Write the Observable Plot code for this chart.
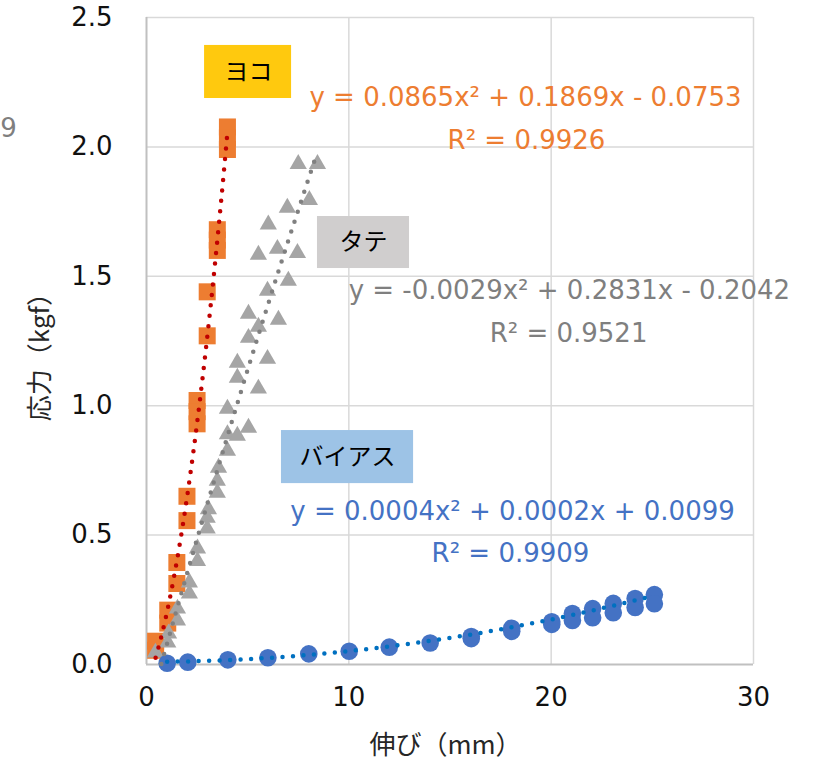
<!DOCTYPE html>
<html><head><meta charset="utf-8">
<script src="https://cdn.jsdelivr.net/npm/d3@7"></script>
<script src="https://cdn.jsdelivr.net/npm/@observablehq/plot@0.6"></script>
<style>body{margin:0;background:#fff}</style>
</head><body><div id="chart"></div>
<script>
// ヨコ (horizontal)
const yokoX = [4.0,4.0,4.0,3.5,3.5,3.5,3.0,3.0,2.5,2.5,2.5,2.0,2.0,1.5,1.5,1.05,1.05,0.45,0.45];
const yokoY = [2.077,2.035,1.99,1.68,1.64,1.60,1.44,1.27,1.02,0.977,0.93,0.65,0.556,0.394,0.313,0.21,0.16,0.09,0.055];
// タテ (vertical)
const tateX = [8.45,7.5,8.05,6.96,6.02,6.47,7.46,5.53,7.01,5.98,5.04,6.52,5.53,5.04,4.49,5.98,4.49,5.53,4.0,5.04,4.0,4.49,4.0,3.56,3.5,3.5,3.06,3.0,3.0,2.52,2.52,2.12,2.12,1.53,1.53,1.09,1.05,0.44];
const tateY = [1.934,1.934,1.795,1.765,1.70,1.606,1.59,1.583,1.483,1.444,1.355,1.332,1.305,1.262,1.166,1.181,1.108,1.066,0.988,0.915,0.89,0.884,0.826,0.76,0.71,0.664,0.60,0.567,0.525,0.448,0.40,0.317,0.274,0.216,0.17,0.12,0.085,0.046];
// バイアス (bias)
const biasX = [1.02,2.04,4.02,6.0,8.02,10.02,12.0,14.02,16.05,16.05,18.05,18.05,20.03,20.03,21.05,21.05,22.05,22.05,23.07,23.07,24.15,24.15,25.1,25.1];
const biasY = [0.005,0.009,0.018,0.026,0.041,0.051,0.067,0.083,0.108,0.10,0.14,0.128,0.165,0.155,0.197,0.17,0.216,0.181,0.236,0.20,0.255,0.22,0.27,0.235];

// trendline coefficients (a, b, c) as printed on the chart
const yokoFit = [0.0865, 0.1869, -0.0753];
const tateFit = [-0.0029, 0.2831, -0.2042];
const biasFit = [0.0004, 0.0002, 0.0099];
const yokoEq = ["y = 0.0865x² + 0.1869x - 0.0753", "R² = 0.9926"];
const tateEq = ["y = -0.0029x² + 0.2831x - 0.2042", "R² = 0.9521"];
const biasEq = ["y = 0.0004x² + 0.0002x + 0.0099", "R² = 0.9909"];
const seriesNames = ["ヨコ", "タテ", "バイアス"];

const xTicks = [0, 10, 20, 30];
const yTicks = [0, 0.5, 1.0, 1.5, 2.0, 2.5];
const xTitle = "伸び（mm）";
const yTitle = "応力（kgf）";

const rows = (xs, ys) => xs.map((x, i) => ({x, y: ys[i]}));
function trend(c, xs) {
  const x0 = d3.min(xs), x1 = d3.max(xs), n = 300;
  return d3.range(n + 1).map(i => {
    const x = x0 + (x1 - x0) * i / n;
    return {x, y: c[0] * x * x + c[1] * x + c[2]};
  }).filter(d => d.y >= 0);
}

const EQF = "DejaVu Sans";
const JPF = "Noto Sans CJK JP";
const dotted = {strokeDasharray: "0 10.5", strokeLinecap: "round", strokeWidth: 4.5};

const chart = Plot.plot({
  width: 823, height: 766,
  marginLeft: 146, marginRight: 70, marginTop: 17, marginBottom: 102,
  x: {domain: [0, 30]},
  y: {domain: [0, 2.5]},
  style: {fontFamily: EQF, background: "#fff"},
  marks: [
    Plot.gridX(xTicks.slice(1), {stroke: "#d9d9d9", strokeOpacity: 1, strokeWidth: 1.5}),
    Plot.gridY(yTicks.slice(1), {stroke: "#d9d9d9", strokeOpacity: 1, strokeWidth: 1.5}),
    Plot.ruleX([0], {stroke: "#c0c0c0", strokeWidth: 2}),
    Plot.ruleY([0], {stroke: "#c0c0c0", strokeWidth: 2}),
    Plot.axisX(xTicks, {tickSize: 0, tickPadding: 23, fontSize: 26, fill: "#111", label: null, tickFormat: d3.format("d")}),
    Plot.axisY(yTicks, {tickSize: 0, tickPadding: 34, fontSize: 26, fill: "#111", label: null, tickFormat: d3.format(".1f")}),
    // markers
    Plot.dot(rows(yokoX, yokoY), {x: "x", y: "y", symbol: "square", r: 9.6, fill: "#ED7D31", stroke: "none"}),
    Plot.dot(rows(tateX, tateY), {x: "x", y: "y", symbol: "triangle", r: 6.4, fill: "#A5A5A5", stroke: "none"}),
    Plot.dot(rows(biasX, biasY), {x: "x", y: "y", r: 8.8, fill: "#4472C4", stroke: "none"}),
    // trendlines
    Plot.line(trend(yokoFit, yokoX), {x: "x", y: "y", stroke: "#C00000", ...dotted}),
    Plot.line(trend(tateFit, tateX), {x: "x", y: "y", stroke: "#808080", ...dotted}),
    Plot.line(trend(biasFit, biasX), {x: "x", y: "y", stroke: "#0070C0", ...dotted}),
    // label boxes
    Plot.rect([0], {x1: 2.87, x2: 7.17, y1: 2.187, y2: 2.392, fill: "#FFC90E"}),
    Plot.rect([0], {x1: 8.45, x2: 13.0, y1: 1.530, y2: 1.731, fill: "#D0CECE"}),
    Plot.rect([0], {x1: 6.67, x2: 13.2, y1: 0.699, y2: 0.904, fill: "#9DC3E6"}),
    Plot.text([seriesNames[0]], {x: 5.04, y: 2.287, text: d => d, fontFamily: JPF, fontSize: 24, fill: "#000"}),
    Plot.text([seriesNames[1]], {x: 10.73, y: 1.631, text: d => d, fontFamily: JPF, fontSize: 24, fill: "#000"}),
    Plot.text([seriesNames[2]], {x: 9.94, y: 0.80, text: d => d, fontFamily: JPF, fontSize: 24, fill: "#000"}),
    // equations
    Plot.text([yokoEq[0]], {x: 18.73, y: 2.191, text: d => d, fontSize: 26, fill: "#ED7D31"}),
    Plot.text([yokoEq[1]], {x: 18.78, y: 2.025, text: d => d, fontSize: 26, fill: "#ED7D31"}),
    Plot.text([tateEq[0]], {x: 20.9, y: 1.445, text: d => d, fontSize: 26, fill: "#7F7F7F"}),
    Plot.text([tateEq[1]], {x: 20.86, y: 1.279, text: d => d, fontSize: 26, fill: "#7F7F7F"}),
    Plot.text([biasEq[0]], {x: 18.09, y: 0.591, text: d => d, fontSize: 26, fill: "#4472C4"}),
    Plot.text([biasEq[1]], {x: 17.99, y: 0.429, text: d => d, fontSize: 26, fill: "#4472C4"}),
    // stray cut-off label at left edge
    Plot.text(["9"], {x: -6.82, y: 2.071, text: d => d, fontSize: 26, fill: "#7F7F7F"}),
    // axis titles
    Plot.text([yTitle], {x: -5.24, y: 1.213, text: d => d, rotate: -90, fontFamily: JPF, fontSize: 26, fill: "#262626"}),
    Plot.text([xTitle], {x: 14.78, y: -0.313, text: d => d, fontFamily: JPF, fontSize: 26, fill: "#262626"})
  ]
});
document.getElementById("chart").append(chart);
</script>
</body></html>
